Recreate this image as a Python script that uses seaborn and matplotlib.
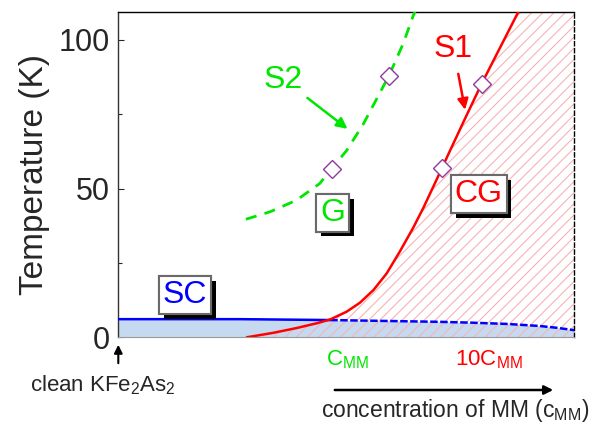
import numpy as np
import matplotlib
matplotlib.use("Agg")
import matplotlib.pyplot as plt
import matplotlib.patheffects as pe
import seaborn as sns

sns.set_theme(style="white")
plt.rcParams['font.family'] = ['Liberation Sans', 'DejaVu Sans']
plt.rcParams['mathtext.fontset'] = 'custom'
plt.rcParams['mathtext.rm'] = 'Liberation Sans'
plt.rcParams['mathtext.it'] = 'Liberation Sans'
plt.rcParams['hatch.linewidth'] = 0.8

# concentration axis is in arbitrary units (0 = clean KFe2As2, 1 = right edge)
# S1: boundary of cluster glass (CG) phase
s1_x = [0.282, 0.340, 0.391, 0.435, 0.465, 0.501, 0.530, 0.560, 0.589, 0.618,
        0.647, 0.669, 0.699, 0.728, 0.761, 0.797, 0.878]
s1_T = [0.0, 1.5, 3.1, 4.7, 6.0, 8.6, 11.6, 15.9, 21.5, 28.9,
        36.8, 43.4, 53.2, 62.8, 73.6, 85.2, 109.5]

# S2: glass (G) boundary, dashed
s2_x = [0.280, 0.333, 0.391, 0.442, 0.468, 0.501, 0.538, 0.567, 0.594, 0.625, 0.647, 0.651]
s2_T = [39.7, 42.2, 46.1, 51.7, 56.7, 62.8, 71.8, 80.2, 88.0, 98.7, 108.1, 109.5]

# superconducting Tc
sc_x = [0.0, 0.266, 0.465, 0.706, 0.779, 0.852, 0.925, 0.962, 1.0]
sc_T = [6.1, 6.1, 5.8, 5.2, 4.9, 4.5, 3.8, 3.2, 2.4]
sc_solid_end = 3  # solid up to the S1 crossing, dashed beyond

# open diamonds on the boundaries
pts_x = [0.468, 0.594, 0.710, 0.797]
pts_T = [56.7, 88.0, 57.1, 85.2]

T_MAX = 109.5

fig = plt.figure(figsize=(6.05, 4.30), dpi=100)
ax = fig.add_axes([0.1955, 0.2156, 0.7533, 0.7572])

# SC region
ax.fill_between(sc_x, 0, sc_T, color='#c5d9f1', lw=0, zorder=1)
# CG region, hatched
ax.fill_betweenx(s1_T, s1_x, 1.0, facecolor='none', edgecolor='#f7b4b4',
                 hatch='///', lw=0, zorder=2)

sns.lineplot(x=sc_x[:sc_solid_end], y=sc_T[:sc_solid_end], ax=ax, sort=False,
             estimator=None, color='#0000ff', lw=1.8, zorder=3)
sns.lineplot(x=sc_x[sc_solid_end - 1:], y=sc_T[sc_solid_end - 1:], ax=ax, sort=False,
             estimator=None, color='#0000ff', lw=1.8, zorder=3,
             linestyle=(0, (3, 1)))
sns.lineplot(x=s1_x, y=s1_T, ax=ax, sort=False, estimator=None,
             color='#ff0000', lw=1.8, zorder=3)
sns.lineplot(x=s2_x, y=s2_T, ax=ax, sort=False, estimator=None,
             color='#00e600', lw=2.0, zorder=3, linestyle=(0, (4, 3)))
ax.plot(pts_x, pts_T, ls='none', marker='D', ms=9, mfc='white',
        mec='#8e3aa0', mew=1.0, zorder=4)

ax.set_xlim(0, 1)
ax.set_ylim(0, T_MAX)
ax.set_xticks([])
ax.set_yticks([0, 50, 100])
ax.set_yticks([25, 75], minor=True)
ax.tick_params(axis='y', which='both', direction='in', left=True, labelsize=22, pad=6)
ax.tick_params(axis='y', which='major', length=4, width=0.8)
ax.tick_params(axis='y', which='minor', length=3, width=0.8)
ax.set_ylabel('Temperature (K)', fontsize=24, labelpad=6)

for side in ['left', 'top', 'right']:
    ax.spines[side].set_color('black')
    ax.spines[side].set_linewidth(1.0)
ax.spines['left'].set_color('#333333')
ax.spines['right'].set_linestyle((0, (3, 2)))
ax.spines['bottom'].set_color('#999999')
ax.spines['bottom'].set_linewidth(0.8)


def boxed(x, y, s, color):
    t = ax.text(x, y, s, color=color, fontsize=23, ha='center', va='center', zorder=6,
                bbox=dict(boxstyle='square,pad=0.12', facecolor='white',
                          edgecolor='#6a6a6a', lw=1.5))
    t.get_bbox_patch().set_path_effects(
        [pe.withSimplePatchShadow(offset=(3.5, -3.5), shadow_rgbFace='black', alpha=1.0),
         pe.Normal()])


boxed(0.146, 14.2, 'SC', '#0000ff')
boxed(0.470, 41.9, 'G', '#00e600')
boxed(0.791, 48.1, 'CG', '#ff0000')

ax.annotate('', xy=(0.503, 70.1), xytext=(0.415, 80.5), zorder=6,
            arrowprops=dict(arrowstyle='-|>', color='#00e600', lw=1.8,
                            mutation_scale=16, shrinkA=0, shrinkB=0))
ax.text(0.361, 86.6, 'S2', color='#00e600', fontsize=23, ha='center', va='center')
ax.annotate('', xy=(0.761, 76.5), xytext=(0.746, 88.6), zorder=6,
            arrowprops=dict(arrowstyle='-|>', color='#ff0000', lw=1.8,
                            mutation_scale=16, shrinkA=0, shrinkB=0))
ax.text(0.735, 97.0, 'S1', color='#ff0000', fontsize=23, ha='center', va='center')

# labels below the axis (figure pixels converted to fractions)
W, H = 605.0, 430.0
fig.text(103 / W, 1 - 385 / H, 'clean KFe$_2$As$_2$', fontsize=16, ha='center', va='center')
fig.add_artist(matplotlib.patches.FancyArrowPatch(
    (118.3 / W, 1 - 366 / H), (118.3 / W, 1 - 342 / H), transform=fig.transFigure,
    arrowstyle='-|>', mutation_scale=12, color='black', lw=1.5))
fig.text(347 / W, 1 - 360 / H, 'C$_{\\mathrm{MM}}$', color='#00e600', fontsize=16,
         ha='center', va='center')
fig.text(489 / W, 1 - 360 / H, '10C$_{\\mathrm{MM}}$', color='#ff0000', fontsize=16,
         ha='center', va='center')
fig.add_artist(matplotlib.patches.FancyArrowPatch(
    (332 / W, 1 - 390 / H), (556 / W, 1 - 390 / H), transform=fig.transFigure,
    arrowstyle='-|>', mutation_scale=13, color='black', lw=1.8))
fig.text(455 / W, 1 - 411 / H, 'concentration of MM (c$_{\\mathrm{MM}}$)', fontsize=16.5,
         ha='center', va='center')

fig.savefig('out.png', dpi=100)
